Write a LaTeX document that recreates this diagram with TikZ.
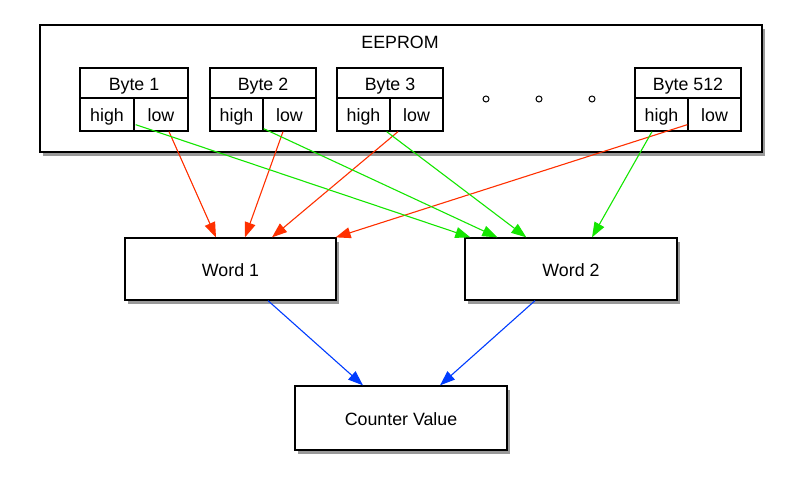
\documentclass[tikz,border=0pt]{standalone}
\usepackage{fontspec}
\setmainfont{Liberation Sans}
\usetikzlibrary{arrows.meta,shadows,calc}
\definecolor{cred}{RGB}{255,48,0}
\definecolor{cgreen}{RGB}{20,230,0}
\definecolor{cblue}{RGB}{0,60,255}
\newcommand\bytebox[5]{%
  \node[cell, minimum width={(#4-#2)*1pt}, minimum height=30pt] (#1-t) at ({(#2+#4)/2},83) {#5};
  \node[cell, minimum width={(#3-#2)*1pt}, minimum height=33pt] (#1-h) at ({(#2+#3)/2},114.5) {high};
  \node[cell, minimum width={(#4-#3)*1pt}, minimum height=33pt] (#1-l) at ({(#3+#4)/2},114.5) {low};
}
\tikzset{
  txt/.style={font=\fontsize{17.8}{20}\selectfont, inner sep=0pt, text height=15pt, text depth=0pt},
  cell/.style={txt, draw=black, line width=1.3pt, fill=white, rectangle},
  sbox/.style={cell, drop shadow={shadow xshift=3pt, shadow yshift=-4pt, opacity=0.4, fill=black}},
  arr/.style={line width=1.1pt, -{Triangle[length=15pt,width=11pt]}},
  dotc/.style={circle, draw=black, line width=1pt, fill=white, minimum size=6pt, inner sep=0pt},
}
\begin{document}
\begin{tikzpicture}[x=1pt,y=-1pt]
\useasboundingbox (0,0) rectangle (800,486);
\node[sbox, minimum width=722pt, minimum height=127pt] (eeprom) at (401,88.5) {};
\node[txt] (eelabel) at (400,41.5) {EEPROM};
\bytebox{b1}{80}{134}{188}{Byte 1}
\bytebox{b2}{210}{263}{316}{Byte 2}
\bytebox{b3}{337}{390}{443}{Byte 3}
\bytebox{b512}{635}{688}{741}{Byte 512}
\node[dotc] (d1) at (486,99) {};
\node[dotc] (d2) at (539,99) {};
\node[dotc] (d3) at (592,99) {};
\node[sbox, minimum width=211pt, minimum height=62pt] (word1) at (230.5,269) {Word 1};
\node[sbox, minimum width=212pt, minimum height=62pt] (word2) at (571,269) {Word 2};
\node[sbox, minimum width=212pt, minimum height=64pt] (counter) at (401,418) {Counter Value};
% red
\draw[arr, cred] ($(b1-l.south)+(8,0)$) -- ($(word1.north)+(-14.5,0)$);
\draw[arr, cred] ($(b2-l.south)+(-6.5,0)$) -- ($(word1.north)+(14.5,0)$);
\draw[arr, cred] ($(b3-l.south)+(-18.5,0)$) -- ($(word1.north)+(41.5,0)$);
\draw[arr, cred] ($(b512-l.south west)+(0,-7)$) -- ($(word1.north east)+(-1,0)$);
% green
\draw[arr, cgreen] ($(b1-h.south east)+(1,-7)$) -- ($(word2.north west)+(6,0)$);
\draw[arr, cgreen] ($(b2-h.south east)+(0,-3)$) -- ($(word2.north west)+(33,0)$);
\draw[arr, cgreen] ($(b3-h.south east)+(-4,0)$) -- ($(word2.north west)+(62,0)$);
\draw[arr, cgreen] ($(b512-h.south)+(-9.5,0)$) -- ($(word2.north)+(21,0)$);
% blue
\draw[arr, cblue] ($(word1.south)+(37.5,0)$) -- ($(counter.north)+(-38,0)$);
\draw[arr, cblue] ($(word2.south)+(-36,0)$) -- ($(counter.north)+(39,0)$);
\end{tikzpicture}
\end{document}
